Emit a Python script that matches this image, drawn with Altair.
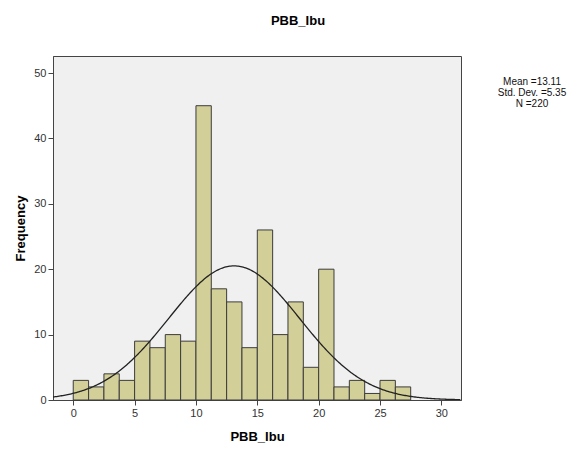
import altair as alt
import pandas as pd

# Histogram data (bin width 1.25 starting at 0)
bin_starts = [0, 1.25, 2.5, 3.75, 5, 6.25, 7.5, 8.75, 10, 11.25, 12.5, 13.75,
              15, 16.25, 17.5, 18.75, 20, 21.25, 22.5, 23.75, 25, 26.25]
counts = [3, 2, 4, 3, 9, 8, 10, 9, 45, 17, 15, 8,
          26, 10, 15, 5, 20, 2, 3, 1, 3, 2]
bin_width = 1.25
mean_val = 13.11
sd_val = 5.35
n_val = 220

x_ticks = [0, 5, 10, 15, 20, 25, 30]
y_ticks = [0, 10, 20, 30, 40, 50]
x_domain = [-1.65, 31.6]
y_domain = [0, 52.6]

df = pd.DataFrame({"start": bin_starts, "count": counts})
df["end"] = df["start"] + bin_width

x_scale = alt.Scale(domain=x_domain, nice=False, zero=False)
y_scale = alt.Scale(domain=y_domain, nice=False)

x_axis = alt.Axis(values=x_ticks, title="PBB_Ibu", grid=False, tickSize=5,
                  labelFontSize=11, labelColor="#333", titleFontSize=13,
                  titleFontWeight="bold", titleColor="#000", titlePadding=12,
                  domainColor="#444", tickColor="#444", labelFont="Liberation Sans",
                  titleFont="Liberation Sans")
y_axis = alt.Axis(values=y_ticks, title="Frequency", grid=False, tickSize=5,
                  labelFontSize=11, labelColor="#333", titleFontSize=13,
                  titleFontWeight="bold", titleColor="#000", titlePadding=6,
                  domainColor="#444", tickColor="#444", labelFont="Liberation Sans",
                  titleFont="Liberation Sans")

bars = alt.Chart(df).mark_rect(fill="#d3cf98", stroke="#3c3c3c", strokeWidth=1).encode(
    x=alt.X("start:Q", scale=x_scale, axis=x_axis),
    x2="end:Q",
    y=alt.Y("count:Q", scale=y_scale, axis=y_axis),
    y2=alt.datum(0),
)

curve = alt.Chart(alt.sequence(x_domain[0], x_domain[1] + 0.05, 0.1, as_="xv")).transform_calculate(
    yv=f"{n_val}*{bin_width}/({sd_val}*sqrt(2*PI))*exp(-0.5*pow((datum.xv-{mean_val})/{sd_val},2))"
).mark_line(color="#222", strokeWidth=1.3, clip=True).encode(
    x=alt.X("xv:Q", scale=x_scale),
    y=alt.Y("yv:Q", scale=y_scale),
)

stats_text = f"Mean ={mean_val:.2f}\nStd. Dev. ={sd_val:.2f}\nN ={n_val}"
annot = alt.Chart(alt.Data(values=[{"t": stats_text}])).mark_text(
    align="center", baseline="top", fontSize=10, lineBreak="\n", lineHeight=11,
    font="Liberation Sans", color="#111", clip=False
).encode(
    text="t:N",
    x=alt.value(479),
    y=alt.value(21),
)

chart = alt.layer(bars, curve, annot).properties(
    width=408,
    height=344,
    autosize="none",
    background="white",
    padding={"left": 45, "top": 48, "right": 107, "bottom": 44},
    title=alt.TitleParams("PBB_Ibu", fontSize=13, fontWeight="bold",
                          font="Liberation Sans", anchor="middle", dx=41,
                          offset=28, color="#000"),
).configure_view(
    fill="#f0f0f0", stroke="#444", strokeWidth=1
)

chart.save("out.html", embed_options={"renderer": "svg", "actions": False})
